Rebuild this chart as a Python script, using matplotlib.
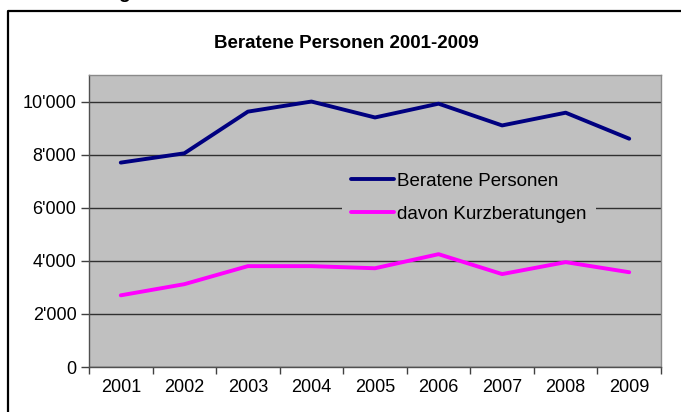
import matplotlib
matplotlib.use("Agg")
import matplotlib.pyplot as plt
from matplotlib.lines import Line2D
from matplotlib.ticker import FuncFormatter, FixedLocator

years = ["2001", "2002", "2003", "2004", "2005", "2006", "2007", "2008", "2009"]
beratene = [7700, 8050, 9620, 10000, 9400, 9920, 9100, 9580, 8600]
kurz = [2700, 3120, 3800, 3800, 3720, 4250, 3500, 3950, 3570]
yticks = [0, 2000, 4000, 6000, 8000, 10000]

plt.rcParams['font.family'] = ['Liberation Sans', 'DejaVu Sans']

W, H = 681, 412
fig = plt.figure(figsize=(W / 100, H / 100), dpi=100)
fig.patch.set_facecolor("white")

# outer frame (partially visible)
fig.add_artist(Line2D([8 / W, 8 / W, 1.0], [0.0, 1 - 10.5 / H, 1 - 10.5 / H],
                      transform=fig.transFigure, color="black", lw=1.6))
# cut-off heading letter above frame
fig.text(124 / W, 1 + 1.5 / H, "g", ha="center", va="baseline",
         fontsize=14, fontweight="bold", color="black")

ax = fig.add_axes([89 / W, 1 - 367 / H, (661 - 89) / W, (367 - 75) / H])
ax.set_facecolor("#C0C0C0")

x = list(range(1, len(years) + 1))
ax.plot(x, beratene, color="#000080", lw=2.8, label="Beratene Personen",
        solid_capstyle="round", solid_joinstyle="round", zorder=3)
ax.plot(x, kurz, color="#FF00FF", lw=2.8, label="davon Kurzberatungen",
        solid_capstyle="round", solid_joinstyle="round", zorder=3)

ax.set_xlim(0.5, len(years) + 0.5)
ax.set_ylim(0, 11000)

ax.set_yticks(yticks)
ax.yaxis.set_major_formatter(FuncFormatter(lambda v, p: f"{int(v):,}".replace(",", "'")))
ax.grid(axis="y", color="#303030", lw=1.0, zorder=1)
ax.set_axisbelow(True)

ax.xaxis.set_major_locator(FixedLocator([i + 0.5 for i in range(0, len(years) + 1)]))
ax.xaxis.set_major_formatter(FuncFormatter(lambda v, p: ""))
ax.xaxis.set_minor_locator(FixedLocator(x))
ax.set_xticklabels(years, minor=True)
ax.tick_params(axis="x", which="major", direction="out", length=5, width=1, color="#404040")
ax.tick_params(axis="x", which="minor", length=0, pad=9, labelsize=13)
ax.tick_params(axis="y", direction="out", length=6, width=1, color="#404040",
               labelsize=13, pad=3)

for s in ["left", "bottom"]:
    ax.spines[s].set_color("#505050")
    ax.spines[s].set_linewidth(1.0)
for s in ["top", "right"]:
    ax.spines[s].set_color("#8a8a8a")
    ax.spines[s].set_linewidth(1.0)

leg = ax.legend(loc="center left", bbox_to_anchor=(0.426, 0.58), frameon=True,
                facecolor="#C0C0C0", edgecolor="none", framealpha=1.0,
                fontsize=13.5, handlelength=2.25, handletextpad=0.2,
                labelspacing=0.85, borderpad=0.5)
leg.get_frame().set_linewidth(0)

fig.text(346 / W, 1 - 44 / H, "Beratene Personen 2001-2009", ha="center", va="center",
         fontsize=13.5, fontweight="bold", color="black")

fig.savefig("out.png", dpi=100, facecolor="white")
